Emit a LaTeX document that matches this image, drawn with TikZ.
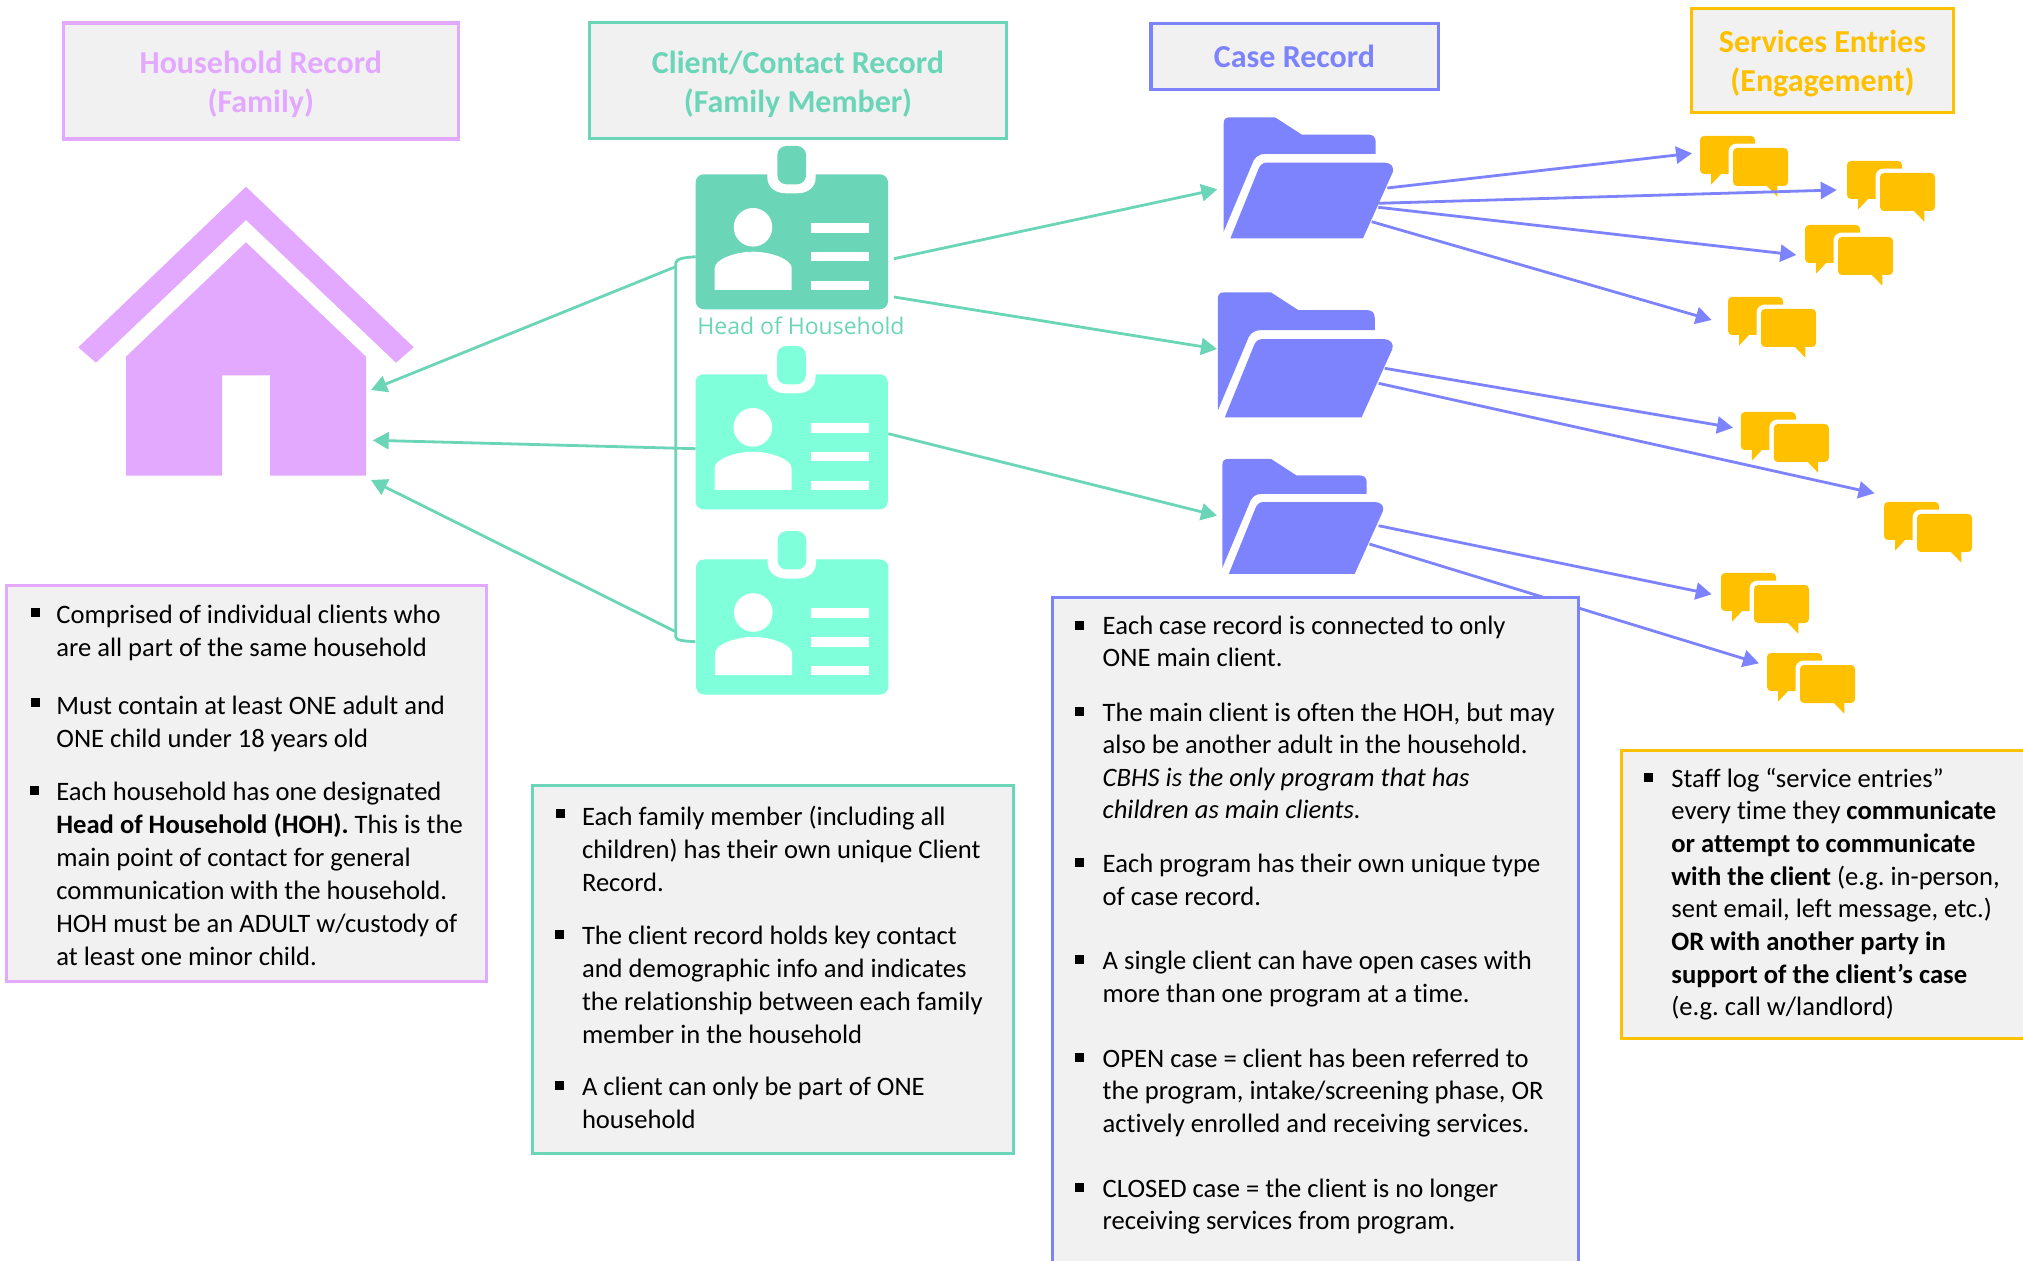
\documentclass[tikz,border=0pt]{standalone}
\usepackage{fontspec}
\setmainfont{Carlito}[Ligatures=NoCommon]
\newfontfamily\labelfont{Open Sans}
\usetikzlibrary{arrows.meta}
\definecolor{hhpink}{HTML}{E3A8FF}
\definecolor{teal}{HTML}{6AD5B7}
\definecolor{aqua}{HTML}{80FFDB}
\definecolor{peri}{HTML}{7C83FD}
\definecolor{amber}{HTML}{FFC000}
\definecolor{panel}{HTML}{F1F1F1}
\tikzset{
  headbox/.style={draw=#1,fill=panel,line width=1.6pt,inner sep=0pt},
  headtext/.style={text=#1,inner sep=0pt,align=center,
    font=\fontsize{16}{19.5}\selectfont\bfseries},
  notebox/.style={draw=#1,fill=panel,line width=1.5pt,inner sep=0pt},
  bodytext/.style={anchor=base west,inner sep=0pt,font=\fontsize{13.3}{16.5}\selectfont},
  casetext/.style={bodytext,font=\fontsize{13.3}{16.2}\selectfont},
  bulletmark/.style={fill=black,inner sep=0pt,minimum size=4.5pt},
  link/.style={draw=teal,line width=1.4pt},
  tealarrow/.style={link,-{Triangle[length=8pt,width=8.5pt,fill=teal]}},
  periarrow/.style={draw=peri,line width=1.4pt,-{Triangle[length=8pt,width=8.5pt,fill=peri]}},
}
\newcommand\idcard[3]{%
  \begin{scope}[shift={(#1,#2)}]
    \fill[#3,rounded corners=4pt] (0,0) rectangle (192.3,135);
    \fill[white] (71.6,-1) -- (71.6,3) .. controls (71.6,13) and (80,19) .. (90,19) -- (102,19) .. controls (112,19) and (120,13) .. (120,3) -- (120,-1) -- cycle;
    \fill[#3,rounded corners=4.5pt] (81.6,-28.3) rectangle (110.3,10);
    \fill[white] (57.3,53) circle [radius=19.3];
    \fill[white] (19,115.7) -- (19,93.7) .. controls (19,85) and (40,77.4) .. (57.3,77.4) .. controls (75,77.4) and (96,85) .. (96,93.7) -- (96,115.7) -- cycle;
    \fill[white] (115.3,48.4) rectangle (173,58.4);
    \fill[white] (115.3,77.4) rectangle (173,87);
    \fill[white] (115.3,106.4) rectangle (173,115.7);
  \end{scope}}
\newcommand\folder[4]{%
  \begin{scope}[shift={(#1,#2)},xscale=#3/169.6,yscale=#4/121]
    \fill[peri] (0,114.3) -- (0,6) .. controls (0,2) and (2,0) .. (6,0) -- (51.3,0) -- (78,17.3) -- (145,17.3) .. controls (149.5,17.3) and (152,20) .. (152,25) -- (152,36.7) -- (41.3,36.7) .. controls (34,36.7) and (30,41) .. (28,47.7) -- cycle;
    \fill[peri] (6.7,121) -- (34.7,52) .. controls (36.5,47.5) and (39,45.3) .. (43,45.3) -- (161,45.3) .. controls (167,45.3) and (171,50) .. (169,55) -- (139.3,121) -- cycle;
  \end{scope}}
\newcommand\bubbles[2]{%
  \begin{scope}[shift={(#1,#2)}]
    \fill[amber,rounded corners=2pt] (0,0) rectangle (55,38);
    \fill[amber] (11,37) -- (11,48.7) -- (22,37) -- cycle;
    \fill[white,rounded corners=4pt] (28.5,7.6) rectangle (92,55);
    \fill[amber,rounded corners=2pt] (33,12) rectangle (88,50);
    \fill[amber] (66,49) -- (77.3,60.7) -- (77.3,49) -- cycle;
  \end{scope}}
\newcommand\bodyblock[5][]{%
  \node (#2) [bodytext,#1] at (#3,#4) {\begin{tabular}[t]{@{}l@{}}#5\end{tabular}};}
\begin{document}
\begin{tikzpicture}[x=0.5pt,y=-0.5pt]
\useasboundingbox (0,0) rectangle (2023,1261);
\begin{scope}
\clip (0,0) rectangle (2023,1261);
% house
\fill[hhpink] (246,186.7) -- (413.7,347.3) -- (396,362.7) -- (246,220) -- (96,362.7) -- (78.3,347.3) -- cycle;
\fill[hhpink] (246,242.3) -- (366,356.7) -- (366,475.7) -- (270,475.7) -- (270,375.3) -- (222,375.3) -- (222,475.7) -- (126,475.7) -- (126,356.7) -- cycle;
% cards
\idcard{695.7}{174.3}{teal}
\idcard{695.5}{374.3}{aqua}
\idcard{696}{559.5}{aqua}
% folders
\folder{1223.7}{117.3}{169.6}{121}
\folder{1217.9}{292.3}{175}{125}
\folder{1222.4}{459}{161}{115}
% bubbles
\bubbles{1700}{136}
\bubbles{1847}{161}
\bubbles{1805}{225}
\bubbles{1728}{297}
\bubbles{1740.8}{412}
\bubbles{1884}{502}
\bubbles{1721}{573}
\bubbles{1767}{653}
% connector ends
\coordinate (houseA) at (371,390);
\coordinate (houseB) at (372.7,440.3);
\coordinate (houseC) at (371,480);
\coordinate (brA) at (675.7,266.7);
\coordinate (brC) at (675.7,631.7);
\coordinate (brTop) at (695.7,256.7);
\coordinate (brBot) at (695.3,641.7);
\coordinate (cardB) at (695.5,448.7);
\coordinate (cardAo1) at (894,258.7);
\coordinate (cardAo2) at (894,297);
\coordinate (cardBo) at (888.3,433.7);
\coordinate (foldAin) at (1217.3,189.3);
\coordinate (foldBin) at (1217,349);
\coordinate (foldCin) at (1217,515.7);
\coordinate (fa1) at (1387.3,188);
\coordinate (fa2) at (1378.3,203.3);
\coordinate (fa3) at (1378.3,207.3);
\coordinate (fa4) at (1371.7,221.7);
\coordinate (fb1) at (1384.7,368.3);
\coordinate (fb2) at (1378.6,383.3);
\coordinate (fc1) at (1378.6,525.7);
\coordinate (fc2) at (1369.4,544);
\coordinate (ea1) at (1692,153.3);
\coordinate (ea2) at (1836.7,190);
\coordinate (ea3) at (1796.3,255);
\coordinate (ea4) at (1711.7,320);
\coordinate (eb1) at (1733,427.7);
\coordinate (eb2) at (1874.5,493.3);
\coordinate (ec1) at (1711.7,594.3);
\coordinate (ec2) at (1759,663.3);
% bracket
\draw[link] (brTop) .. controls (685,257.5) and (676,258.5) .. (675.7,263) -- (675.7,637) .. controls (676,640.5) and (685,641.2) .. (brBot);
% teal arrows
\draw[tealarrow] (brA) -- (houseA);
\draw[tealarrow] (cardB) -- (houseB);
\draw[tealarrow] (brC) -- (houseC);
\draw[tealarrow] (cardAo1) -- (foldAin);
\draw[tealarrow] (cardAo2) -- (foldBin);
\draw[tealarrow] (cardBo) -- (foldCin);
% periwinkle arrows
\draw[periarrow] (fa1) -- (ea1);
\draw[periarrow] (fa2) -- (ea2);
\draw[periarrow] (fa3) -- (ea3);
\draw[periarrow] (fa4) -- (ea4);
\draw[periarrow] (fb1) -- (eb1);
\draw[periarrow] (fb2) -- (eb2);
\draw[periarrow] (fc1) -- (ec1);
\draw[periarrow] (fc2) -- (ec2);
% headers
\node (headHH) [headbox=hhpink,minimum width=197.6pt,minimum height=58pt] at (260.75,81) {};
\node (headHHt) [headtext=hhpink] at (260.75,84.5) {Household Record\\(Family)};
\node (headCL) [headbox=teal,minimum width=208.6pt,minimum height=57.8pt] at (798,80.5) {};
\node (headCLt) [headtext=teal] at (798,84.5) {Client/Contact Record\\(Family Member)};
\node (headCS) [headbox=peri,minimum width=143.6pt,minimum height=33pt] at (1294.5,56.5) {};
\node (headCSt) [headtext=peri] at (1294.5,56.5) {Case Record};
\node (headSV) [headbox=amber,minimum width=130.8pt,minimum height=52pt] at (1822.5,60.5) {};
\node (headSVt) [headtext=amber] at (1822.5,63.5) {Services Entries\\(Engagement)};
\node (hohlabel) [anchor=base west,inner sep=0pt,text=teal,font=\labelfont\fontsize{11.5}{14}\selectfont] at (697,335) {Head of Household};
% note boxes
\node (notePink) [notebox=hhpink,minimum width=240pt,minimum height=198.2pt] at (246.85,783.3) {};
\node (noteTeal) [notebox=teal,minimum width=240.6pt,minimum height=184.3pt] at (773,969.3) {};
\node (notePeri) [notebox=peri,minimum width=263pt,minimum height=351.5pt] at (1315.9,948.5) {};
\node (noteAmber) [notebox=amber,minimum width=219.4pt,minimum height=144pt] at (1841.1,894.5) {};
% pink text
\node (bp1) [bulletmark] at (35,612) {};
\node (bp2) [bulletmark] at (35,702.5) {};
\node (bp3) [bulletmark] at (34.5,790) {};
\bodyblock{tp1}{56}{624}{Comprised of individual clients who\\are all part of the same household}
\bodyblock{tp2}{56}{714}{Must contain at least ONE adult and\\ONE child under 18 years old}
\bodyblock{tp3}{56}{800}{Each household has one designated\\\textbf{Head of Household (HOH).} This is the\\main point of contact for general\\communication with the household.\\HOH must be an ADULT w/custody of\\at least one minor child.}
% teal text
\node (bt1) [bulletmark] at (560,813.3) {};
\node (bt2) [bulletmark] at (559,934) {};
\node (bt3) [bulletmark] at (559,1085) {};
\bodyblock{tt1}{581.6}{825}{Each family member (including all\\children) has their own unique Client\\Record.}
\bodyblock{tt2}{581.6}{944}{The client record holds key contact\\and demographic info and indicates\\the relationship between each family\\member in the household}
\bodyblock{tt3}{581.6}{1095}{A client can only be part of ONE\\household}
% periwinkle text
\node (bc1) [bulletmark] at (1079.6,625) {};
\node (bc2) [bulletmark] at (1079.6,711.5) {};
\node (bc3) [bulletmark] at (1079.6,862.3) {};
\node (bc4) [bulletmark] at (1079.6,959) {};
\node (bc5) [bulletmark] at (1079.6,1057.5) {};
\node (bc6) [bulletmark] at (1079.6,1187) {};
\bodyblock[casetext]{tc1}{1102.3}{634.5}{Each case record is connected to only\\ONE main client.}
\bodyblock[casetext]{tc2}{1102.3}{721.5}{The main client is often the HOH, but may\\also be another adult in the household.\\\textit{CBHS is the only program that has}\\\textit{children as main clients.}}
\bodyblock[casetext]{tc3}{1102.3}{872.7}{Each program has their own unique type\\of case record.}
\bodyblock[casetext]{tc4}{1102.3}{969.9}{A single client can have open cases with\\more than one program at a time.}
\bodyblock[casetext]{tc5}{1102.3}{1067.3}{OPEN case = client has been referred to\\the program, intake/screening phase, OR\\actively enrolled and receiving services.}
\bodyblock[casetext]{tc6}{1102.3}{1197}{CLOSED case = the client is no longer\\receiving services from program.}
% amber text
\node (ba1) [bulletmark] at (1648.7,777.5) {};
\bodyblock[font=\fontsize{13.3}{16.35}\selectfont]{ta1}{1671}{787}{Staff log “service entries”\\every time they \textbf{communicate}\\\textbf{or attempt to communicate}\\\textbf{with the client} (e.g.~in-person,\\sent email, left message, etc.)\\\textbf{OR with another party in}\\\textbf{support of the client’s case}\\(e.g.~call w/landlord)}
\end{scope}
\end{tikzpicture}
\end{document}
